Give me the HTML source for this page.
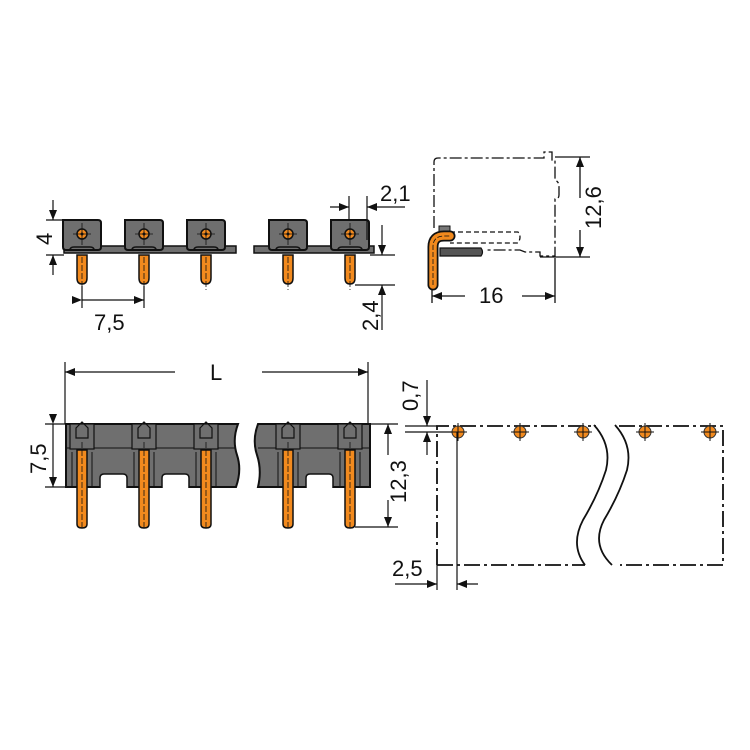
<!DOCTYPE html>
<html><head><meta charset="utf-8"><style>html,body{margin:0;padding:0;background:#fff}svg{display:block}text{font-family:"Liberation Sans",sans-serif;font-size:22px;fill:#111}</style></head>
<body>
<svg width="750" height="750" viewBox="0 0 750 750" xmlns="http://www.w3.org/2000/svg">
<defs>
<marker id="a" markerWidth="10" markerHeight="8" refX="10" refY="4" orient="auto" markerUnits="userSpaceOnUse"><path d="M0,0 L10,4 L0,8 Z" fill="#111"/></marker>
<g id="tb">
 <path d="M-19,0 H16 Q19,0 19,3 V27 Q19,30 16,30 H-16 Q-19,30 -19,27 Z" fill="#6f6f6f" stroke="#111" stroke-width="2"/>
 <path d="M-12,30 Q-12,27 -8,27 H8 Q12,27 12,30" fill="none" stroke="#111" stroke-width="1.5"/>
 <circle cx="0" cy="14" r="5" fill="#f28a1e" stroke="#111" stroke-width="1.5"/><circle cx="0" cy="14" r="1.5" fill="#111"/>
 <line x1="-9" y1="14" x2="9" y2="14" stroke="#111" stroke-width="0.8"/><line x1="0" y1="3" x2="0" y2="25" stroke="#111" stroke-width="0.8"/>
 <path d="M-5,35 V58 Q-5,64 0,64 Q5,64 5,58 V35 Z" fill="#f28a1e" stroke="#111" stroke-width="1.5"/>
 <line x1="0" y1="37" x2="0" y2="70" stroke="#111" stroke-width="0.8" stroke-dasharray="6,2"/>
</g>
<g id="bp">
 <rect x="-12" y="0" width="24" height="25" fill="#6f6f6f" stroke="#111" stroke-width="1.2"/>
 <path d="M-6,4 L0,-2 L6,4 V14 H-6 Z" fill="none" stroke="#111" stroke-width="1.2"/>
 <path d="M-5,26 V100 Q-5,104 0,104 Q5,104 5,100 V26 Z" fill="#f28a1e" stroke="#111" stroke-width="1.5"/>
 <line x1="0" y1="18" x2="0" y2="106" stroke="#111" stroke-width="0.8" stroke-dasharray="6,2"/>
 <line x1="-10" y1="28" x2="-10" y2="62" stroke="#111" stroke-width="1"/><line x1="10" y1="28" x2="10" y2="62" stroke="#111" stroke-width="1"/>
</g>
<g id="fp"><circle r="6" fill="#f28a1e" stroke="#333" stroke-width="1"/><line x1="-9" y1="0" x2="9" y2="0" stroke="#111" stroke-width="1"/><line x1="0" y1="-9" x2="0" y2="9" stroke="#111" stroke-width="1"/></g>
</defs>

<!-- top-left front view -->
<rect x="64" y="246" width="172" height="7" fill="#6f6f6f" stroke="#111" stroke-width="1.5"/>
<rect x="254" y="246" width="120" height="7" fill="#6f6f6f" stroke="#111" stroke-width="1.5"/>
<use href="#tb" x="82" y="220"/><use href="#tb" x="144" y="220"/><use href="#tb" x="206" y="220"/>
<use href="#tb" x="288" y="220"/><use href="#tb" x="350" y="220"/>
<g stroke="#111" stroke-width="1.2" fill="none">
 <line x1="46" y1="220" x2="64" y2="220"/><line x1="46" y1="255" x2="64" y2="255"/>
 <line x1="53" y1="200" x2="53" y2="220" marker-end="url(#a)"/><line x1="53" y1="275" x2="53" y2="255" marker-end="url(#a)"/>
 <line x1="82" y1="286" x2="82" y2="308"/><line x1="144" y1="286" x2="144" y2="308"/>
 <line x1="82" y1="300" x2="144" y2="300" marker-start="url(#a)" marker-end="url(#a)"/>
 <line x1="349" y1="196" x2="349" y2="220"/><line x1="367" y1="196" x2="367" y2="240"/>
 <line x1="330" y1="207" x2="349" y2="207" marker-end="url(#a)"/><line x1="405" y1="207" x2="367" y2="207" marker-end="url(#a)"/>
 <line x1="370" y1="255" x2="395" y2="255"/><line x1="355" y1="285" x2="395" y2="285"/>
 <line x1="382" y1="225" x2="382" y2="255" marker-end="url(#a)"/><line x1="382" y1="330" x2="382" y2="285" marker-end="url(#a)"/>
</g>
<text transform="translate(52,245) rotate(-90)">4</text>
<text x="94" y="330">7,5</text>
<text x="380" y="201">2,1</text>
<text transform="translate(378,331) rotate(-90)">2,4</text>

<!-- side view -->
<g fill="none" stroke="#111" stroke-width="1.3">
 <path d="M434,228 V162 Q434,158 438,158 H544 V152 H552 V160 H555 V180 Q559,182 559,186 V195 Q559,199 555,199 V256 H540 V252 H525 L520,250 H485" stroke-dasharray="12,3,3,3"/>
 <path d="M450,232 H518 Q522,237 518,243 H450" stroke-dasharray="5,3"/>
 <line x1="555" y1="157" x2="590" y2="157"/><line x1="540" y1="257" x2="590" y2="257"/>
 <line x1="580" y1="198" x2="580" y2="157" marker-end="url(#a)"/><line x1="580" y1="230" x2="580" y2="257" marker-end="url(#a)"/>
 <line x1="555" y1="258" x2="555" y2="303"/><line x1="432" y1="285" x2="432" y2="303"/>
 <line x1="465" y1="296" x2="432" y2="296" marker-end="url(#a)"/><line x1="522" y1="296" x2="555" y2="296" marker-end="url(#a)"/>
</g>
<path d="M440,248 H481 Q484,252 481,256 H440 Z" fill="#555" stroke="#111" stroke-width="1.2"/>
<rect x="439" y="226" width="11" height="10" fill="#777" stroke="#111"/>
<path d="M433,285 V247 Q433,236 444,236 H450" fill="none" stroke="#111" stroke-width="11" stroke-linecap="round"/>
<path d="M433,285 V247 Q433,236 444,236 H450" fill="none" stroke="#f28a1e" stroke-width="7.5" stroke-linecap="round"/>
<path d="M433,285 V247 Q433,236 444,236 H450" fill="none" stroke="#111" stroke-width="0.8" stroke-dasharray="5,2"/>
<text x="479" y="303">16</text>
<text transform="translate(601,229) rotate(-90)">12,6</text>

<!-- bottom-left view -->
<path d="M66,424 H238 Q232,440 237,455 Q242,470 236,487 H66 Z" fill="#6f6f6f" stroke="#111" stroke-width="2"/>
<path d="M258,424 H370 V487 H258 Q262,470 257,455 Q252,440 258,424 Z" fill="#6f6f6f" stroke="#111" stroke-width="2"/>
<g fill="#fff" stroke="#111" stroke-width="1.5">
 <path d="M100,488 V478 Q100,474 104,474 H123 Q127,474 127,478 V488"/>
 <path d="M162,488 V478 Q162,474 166,474 H185 Q189,474 189,478 V488"/>
 <path d="M306,488 V478 Q306,474 310,474 H329 Q333,474 333,478 V488"/>
</g>
<g stroke="#111" stroke-width="1"><line x1="66" y1="448" x2="236" y2="448"/><line x1="258" y1="448" x2="370" y2="448"/></g>
<use href="#bp" x="82" y="424"/><use href="#bp" x="144" y="424"/><use href="#bp" x="206" y="424"/>
<use href="#bp" x="288" y="424"/><use href="#bp" x="350" y="424"/>
<g stroke="#111" stroke-width="1.2" fill="none">
 <line x1="65" y1="362" x2="65" y2="424"/><line x1="368" y1="362" x2="368" y2="424"/>
 <line x1="175" y1="372" x2="65" y2="372" marker-end="url(#a)"/><line x1="262" y1="372" x2="368" y2="372" marker-end="url(#a)"/>
 <line x1="45" y1="424" x2="66" y2="424"/><line x1="45" y1="487" x2="66" y2="487"/>
 <line x1="53" y1="424" x2="53" y2="487" marker-start="url(#a)" marker-end="url(#a)"/>
 <line x1="370" y1="424" x2="398" y2="424"/><line x1="355" y1="527" x2="398" y2="527"/>
 <line x1="388" y1="455" x2="388" y2="424" marker-end="url(#a)"/><line x1="388" y1="500" x2="388" y2="527" marker-end="url(#a)"/>
</g>
<text x="210" y="380">L</text>
<text transform="translate(46,474) rotate(-90)">7,5</text>
<text transform="translate(406,503) rotate(-90)">12,3</text>

<!-- footprint -->
<g fill="none" stroke="#111" stroke-width="1.8">
 <path d="M437,565 V426 H596" stroke-dasharray="16,4,3,4"/>
 <path d="M619,426 H723 V565 H620" stroke-dasharray="16,4,3,4"/>
 <path d="M437,565 H585" stroke-dasharray="16,4,3,4"/>
 <path d="M594,425 Q612,445 606,470 Q598,495 583,520 Q570,545 585,565"/>
 <path d="M615,425 Q633,445 627,470 Q619,495 604,520 Q591,545 612,565"/>
</g>
<use href="#fp" x="458" y="432"/><use href="#fp" x="520" y="432"/><use href="#fp" x="583" y="432"/>
<use href="#fp" x="645" y="432"/><use href="#fp" x="710" y="432"/>
<g stroke="#111" stroke-width="1.2" fill="none">
 <line x1="405" y1="426" x2="437" y2="426"/><line x1="405" y1="432" x2="452" y2="432"/>
 <line x1="427" y1="380" x2="427" y2="426" marker-end="url(#a)"/><line x1="427" y1="455" x2="427" y2="432" marker-end="url(#a)"/>
 <line x1="437" y1="565" x2="437" y2="590"/><line x1="457" y1="432" x2="457" y2="590"/>
 <line x1="395" y1="584" x2="437" y2="584" marker-end="url(#a)"/><line x1="478" y1="584" x2="457" y2="584" marker-end="url(#a)"/>
</g>
<text transform="translate(418,411) rotate(-90)">0,7</text>
<text x="392" y="576">2,5</text>
</svg>
</body></html>
